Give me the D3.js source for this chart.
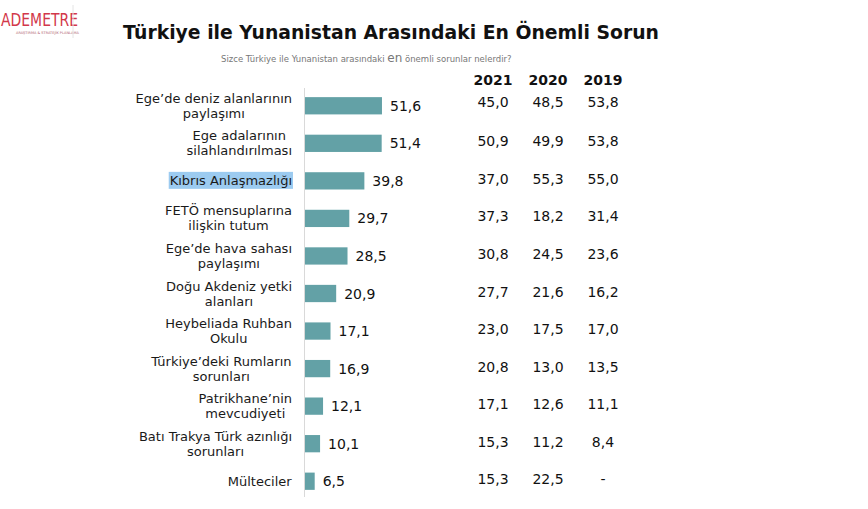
<!DOCTYPE html>
<html><head><meta charset="utf-8">
<script src="https://cdn.jsdelivr.net/npm/d3@7"></script>
<style>body{margin:0;background:#fff;} svg{display:block;}</style>
</head><body>
<script>
const categories = [
  ["Ege’de deniz alanlarının","paylaşımı"],
  ["Ege adalarının","silahlandırılması"],
  ["Kıbrıs Anlaşmazlığı"],
  ["FETÖ mensuplarına","ilişkin tutum"],
  ["Ege’de hava sahası","paylaşımı"],
  ["Doğu Akdeniz yetki","alanları"],
  ["Heybeliada Ruhban","Okulu"],
  ["Türkiye’deki Rumların","sorunları"],
  ["Patrikhane’nin","mevcudiyeti"],
  ["Batı Trakya Türk azınlığı","sorunları"],
  ["Mülteciler"]
];
const values2022 = [51.6,51.4,39.8,29.7,28.5,20.9,17.1,16.9,12.1,10.1,6.5];
const values2021 = [45.0,50.9,37.0,37.3,30.8,27.7,23.0,20.8,17.1,15.3,15.3];
const values2020 = [48.5,49.9,55.3,18.2,24.5,21.6,17.5,13.0,12.6,11.2,22.5];
const values2019 = [53.8,53.8,55.0,31.4,23.6,16.2,17.0,13.5,11.1,8.4,null];
const yearLabels = ["2021","2020","2019"];
const highlighted = 2;

const W = 868, H = 509;
const svg = d3.select("body").append("svg").attr("width", W).attr("height", H);
const font = "'DejaVu Sans', Verdana, sans-serif";

// logo
svg.append("text").attr("x", 1).attr("y", 26).attr("font-family", font)
  .attr("font-size", 17).attr("fill", "#d2384a")
  .attr("textLength", 77).attr("lengthAdjust", "spacingAndGlyphs").text("ADEMETRE");
svg.append("text").attr("x", 16).attr("y", 34).attr("font-family", font)
  .attr("font-size", 3.5).attr("fill", "#b06070").text("ARAŞTIRMA & STRATEJİK PLANLAMA");
svg.append("line").attr("x1", 73).attr("x2", 73).attr("y1", 5).attr("y2", 38).attr("stroke", "#e4e4e4");

// title
svg.append("text").attr("x", 123).attr("y", 39).attr("font-family", font)
  .attr("font-size", 20).attr("font-weight", "bold").attr("fill", "#111")
  .attr("textLength", 536).attr("lengthAdjust", "spacingAndGlyphs")
  .text("Türkiye ile Yunanistan Arasındaki En Önemli Sorun");

const sub = svg.append("text").attr("x", 221).attr("y", 62).attr("font-family", font)
  .attr("font-size", 8.5).attr("fill", "#777");
sub.append("tspan").text("Sizce Türkiye ile Yunanistan arasındaki ");
sub.append("tspan").attr("font-size", 12).text("en");
sub.append("tspan").text(" önemli sorunlar nelerdir?");

const y = d3.scaleBand().domain(d3.range(categories.length)).range([87, 500]).paddingInner(0.54).paddingOuter(0.27);
const x = d3.scaleLinear().domain([0, 60]).range([305, 394.5]);

// axis line
svg.append("line").attr("x1", 304.5).attr("x2", 304.5).attr("y1", 88).attr("y2", 497)
  .attr("stroke", "#d9d9d9").attr("stroke-width", 1);

const fmt = v => v == null ? "-" : d3.format(".1f")(v).replace(".", ",");

// labels
const labelRight = 292;
const lineH = 15;
categories.forEach((lines, i) => {
  const cy = y(i) + y.bandwidth() / 2;
  const g = svg.append("g");
  const t = g.append("text").attr("font-family", font).attr("font-size", 13).attr("fill", "#1a1a1a")
    .attr("text-anchor", "middle");
  const n = lines.length;
  lines.forEach((s, j) => {
    t.append("tspan").attr("x", 0).attr("y", cy + (j - (n - 1) / 2) * lineH + 4.5).text(s);
  });
  const bb = t.node().getBBox();
  const cx = labelRight - bb.width / 2;
  t.selectAll("tspan").attr("x", cx);
  if (i === highlighted) {
    g.insert("rect", "text").attr("x", labelRight - bb.width - 1).attr("y", cy - 9)
      .attr("width", bb.width + 2).attr("height", 17).attr("fill", "#9ccbf0");
  }
});

// bars
svg.selectAll("rect.bar").data(values2022).enter().append("rect").attr("class", "bar")
  .attr("x", x(0)).attr("y", (d, i) => y(i)).attr("width", d => x(d) - x(0))
  .attr("height", y.bandwidth()).attr("fill", "#63a1a6");

svg.selectAll("text.val").data(values2022).enter().append("text").attr("class", "val")
  .attr("x", d => x(d) + 8).attr("y", (d, i) => y(i) + y.bandwidth() / 2 + 5)
  .attr("font-family", font).attr("font-size", 14).attr("fill", "#111").text(fmt);

// table
const colX = d3.scalePoint().domain(yearLabels).range([493, 603]);
yearLabels.forEach(yl => {
  svg.append("text").attr("x", colX(yl)).attr("y", 85).attr("text-anchor", "middle")
    .attr("font-family", font).attr("font-size", 14).attr("font-weight", "bold").attr("fill", "#111").text(yl);
});
const cols = [values2021, values2020, values2019];
cols.forEach((arr, c) => {
  svg.selectAll("text.c" + c).data(arr).enter().append("text").attr("class", "c" + c)
    .attr("x", colX(yearLabels[c])).attr("y", (d, i) => y(i) + y.bandwidth() / 2 + (i === 0 ? 1 : 3))
    .attr("text-anchor", "middle").attr("font-family", font).attr("font-size", 14).attr("fill", "#111")
    .text(fmt);
});
</script>
</body></html>
